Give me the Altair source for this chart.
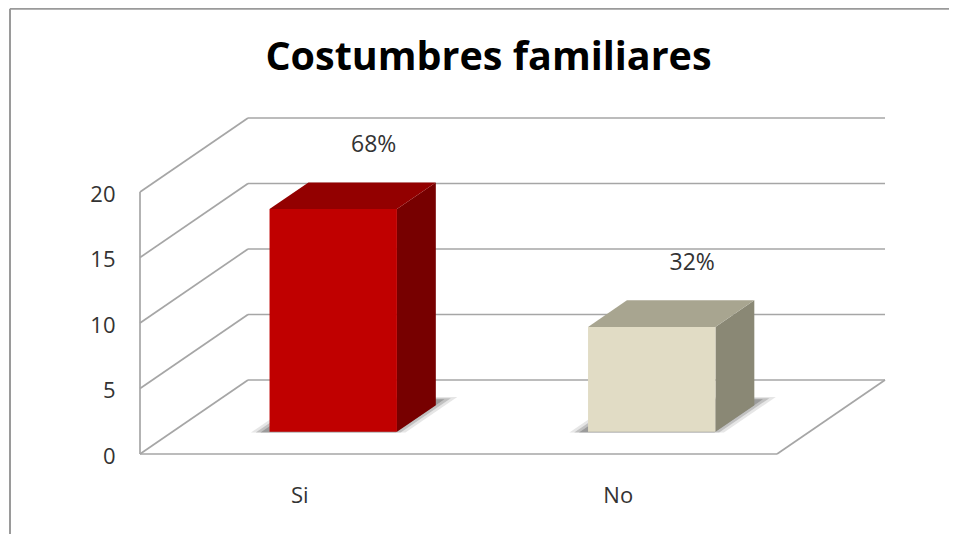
import altair as alt
import pandas as pd

title_text = "Costumbres familiares"
categories = ["Si", "No"]
values = [17, 8]
percent_labels = ["68%", "32%"]
y_ticks = [0, 5, 10, 15, 20]
bar_centers = [0.505, 1.505]
front_colors = ["#C00000", "#E1DCC5"]
side_colors = ["#770000", "#8A8875"]
top_colors = ["#930000", "#A8A590"]

W, H = 941, 526
PX_X, PX_Y = 318.5, 13.1
X0, Y0 = 132, 446
DX, DY = 108 / PX_X, 74 / PX_Y
BAR_HALF = 0.2
D0, D1 = 0.30, 0.66
GRID = "#A6A6A6"

x_scale = alt.Scale(domain=[-X0 / PX_X, (W - X0) / PX_X], range=[0, W], nice=False, zero=False)
y_scale = alt.Scale(domain=[(Y0 - H) / PX_Y, Y0 / PX_Y], range=[H, 0], nice=False, zero=False)


def px(c, d):
    return c + d * DX


def py(v, d):
    return v + d * DY


segs = []
for t in y_ticks:
    segs.append(dict(x=px(0, 1), x2=px(2, 1), y=py(t, 1), y2=py(t, 1)))
    segs.append(dict(x=px(0, 0), x2=px(0, 1), y=py(t, 0), y2=py(t, 1)))
segs.append(dict(x=px(0, 0), x2=px(2, 0), y=0, y2=0))
segs.append(dict(x=px(2, 0), x2=px(2, 1), y=py(0, 0), y2=py(0, 1)))
segs.append(dict(x=px(0, 0), x2=px(0, 0), y=0, y2=y_ticks[-1]))
seg_df = pd.DataFrame(segs)

enc_x = alt.X("x:Q", scale=x_scale, title=None, axis=alt.Axis(
    values=[0.5, 1.5], labelExpr="['Si','No'][round(datum.value-0.5)]", domain=False, ticks=False, grid=False,
    offset=-49, labelPadding=0, labelFont="Open Sans", labelFontSize=22, labelColor="#333333", labelBaseline="top"))
enc_y = alt.Y("y:Q", scale=y_scale, title=None, axis=alt.Axis(
    values=y_ticks, domain=False, ticks=False, grid=False, offset=-107, labelPadding=0, labelOffset=2,
    labelFont="Open Sans", labelFontSize=22, labelColor="#333333"))

base = alt.Chart(seg_df).mark_rule(color=GRID, strokeWidth=1.7).encode(
    x=enc_x, x2="x2:Q", y=enc_y, y2="y2:Q")


def floor_rows(c0, c1, d0, d1, v):
    """Horizontal parallelogram at height v, written as an area."""
    ya, yb = py(v, d0), py(v, d1)
    xa, xb = px(c0, d0), px(c1, d0)
    xd, xc = px(c0, d1), px(c1, d1)
    return [dict(x=xa, y=ya, y2=ya), dict(x=xd, y=ya, y2=yb), dict(x=xb, y=ya, y2=yb), dict(x=xc, y=yb, y2=yb)]


def area(rows, color, opacity=1.0):
    return alt.Chart(pd.DataFrame(rows)).mark_area(color=color, opacity=opacity, interpolate="linear").encode(
        x=enc_x, y=enc_y, y2="y2:Q")


layers = [base]
for i, cat in enumerate(categories):
    c = bar_centers[i]
    v = values[i]
    for grow, op in [(0.03, 0.15), (0.015, 0.25), (0.0, 0.35)]:
        layers.append(area(floor_rows(c - 0.225 - grow, c + 0.2 + grow, D0 - 0.01, D1 + 0.08 + grow, 0), "#555555", op))
    left, right = px(c + BAR_HALF, D0), px(c + BAR_HALF, D1)
    layers.append(area([dict(x=left, y=py(0, D0), y2=py(v, D0)), dict(x=right, y=py(0, D1), y2=py(v, D1))], side_colors[i]))
    layers.append(area(floor_rows(c - BAR_HALF, c + BAR_HALF, D0, D1, v), top_colors[i]))
    front = pd.DataFrame([dict(x=px(c - BAR_HALF, D0), x2=px(c + BAR_HALF, D0), y=py(0, D0), y2=py(v, D0))])
    layers.append(alt.Chart(front).mark_rect(color=front_colors[i]).encode(x=enc_x, x2="x2:Q", y=enc_y, y2="y2:Q"))

label_df = pd.DataFrame({
    "x": [px(c, D1) + 0.005 for c in bar_centers],
    "y": [py(v, D1) for v in values],
    "t": percent_labels,
})
layers.append(alt.Chart(label_df).mark_text(font="Open Sans", fontSize=23, color="#333333", dy=-37, baseline="middle").encode(
    x=enc_x, y=enc_y, text="t:N"))

layers.append(alt.Chart(pd.DataFrame({"a": [0]})).mark_rule(color="#9A9A9A", strokeWidth=2).encode(
    x=alt.value(2), y=alt.value(0.8), y2=alt.value(H)))
layers.append(alt.Chart(pd.DataFrame({"a": [0]})).mark_rule(color="#9A9A9A", strokeWidth=2).encode(
    x=alt.value(2), x2=alt.value(W), y=alt.value(0.8)))

chart = alt.layer(*layers).properties(
    width=W, height=H,
    title=alt.TitleParams(title_text, font="Open Sans", fontSize=39.5, fontWeight="bold", color="#000000",
                          anchor="middle", dx=10, dy=71, offset=0),
    autosize=alt.AutoSizeParams(type="none"), padding=0, background="white",
).configure_view(stroke=None)

chart.save("out.html", embed_options={"renderer": "svg", "actions": False})
